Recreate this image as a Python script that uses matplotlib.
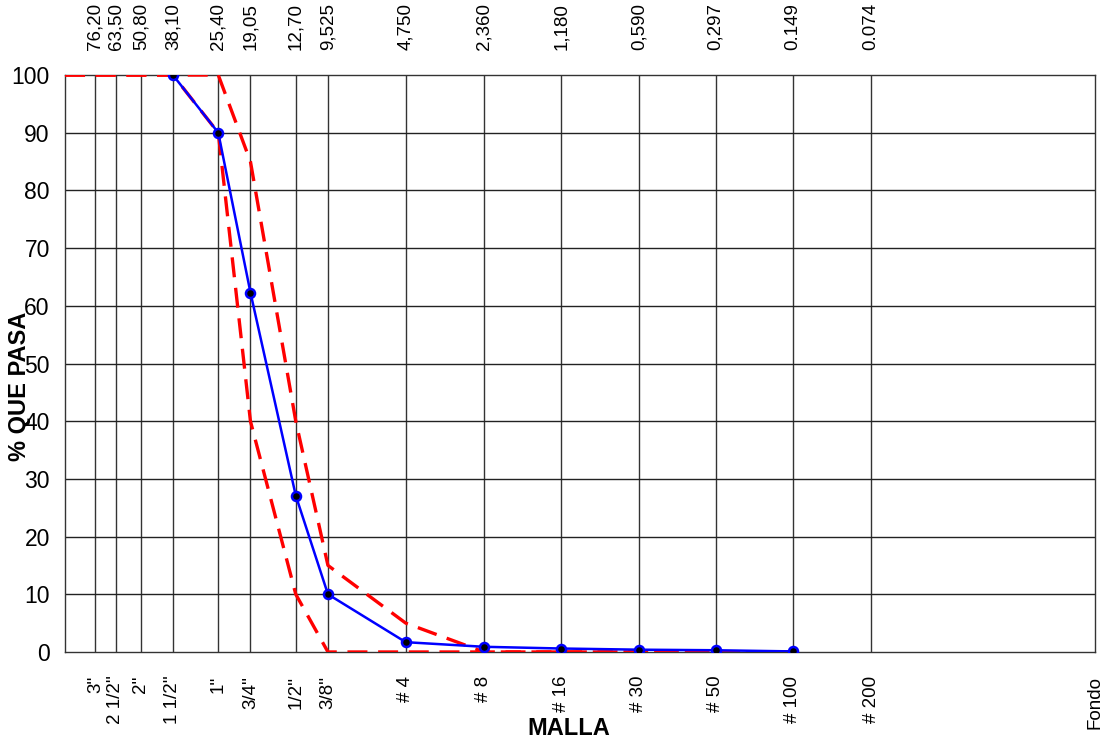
import matplotlib
matplotlib.use("Agg")

import matplotlib.pyplot as plt

plt.rcParams["font.family"] = ["Liberation Sans", "DejaVu Sans"]

# sieve data
mallas = ["3''", "2 1/2''", "2''", "1 1/2''", "1''", "3/4''", "1/2''", "3/8''",
          "# 4", "# 8", "# 16", "# 30", "# 50", "# 100", "# 200", "Fondo"]
aberturas = [76.2, 63.5, 50.8, 38.1, 25.4, 19.05, 12.7, 9.525,
             4.75, 2.36, 1.18, 0.59, 0.297, 0.149, 0.074, 0.01]
aberturas_txt = ["76,20", "63,50", "50,80", "38,10", "25,40", "19,05", "12,70", "9,525",
                 "4,750", "2,360", "1,180", "0,590", "0,297", "0.149", "0.074"]

# sample curve
muestra_x = [38.1, 25.4, 19.05, 12.7, 9.525, 4.75, 2.36, 1.18, 0.59, 0.297, 0.149]
muestra_y = [100, 90, 62.3, 27.1, 10.0, 1.7, 0.9, 0.6, 0.4, 0.3, 0.1]

# spec limits
lim_x = [100, 76.2, 63.5, 50.8, 38.1, 25.4, 19.05, 12.7, 9.525, 4.75, 2.36, 1.18, 0.59, 0.297, 0.149]
lim_sup = [100, 100, 100, 100, 100, 100, 85, 40, 15, 5, 0, 0, 0, 0, 0]
lim_inf = [100, 100, 100, 100, 100, 90, 40, 10, 0, 0, 0, 0, 0, 0, 0]

fig = plt.figure(figsize=(11.08, 7.43), dpi=100)
ax = fig.add_axes([0.0587, 0.1225, 0.9295, 0.7765])

ax.set_xscale("log")
ax.set_xlim(100, 0.01)
ax.set_ylim(0, 100)

# grid
for x in aberturas[:-1]:
    ax.axvline(x, color="#333333", lw=1.0, zorder=1)
for y in range(10, 100, 10):
    ax.axhline(y, color="#222222", lw=1.0, zorder=1)

ax.plot(lim_x, lim_sup, color="red", lw=2.4, dashes=(6, 3.2), zorder=3)
ax.plot(lim_x, lim_inf, color="red", lw=2.4, dashes=(6, 3.2), zorder=3)
ax.plot(muestra_x, muestra_y, color="blue", lw=1.8, marker="o", markersize=6.5,
        markerfacecolor="black", markeredgecolor="blue", markeredgewidth=1.8, zorder=4)

ax.set_yticks(range(0, 101, 10))
ax.tick_params(axis="y", length=0, pad=11, labelsize=16.5)

ax.set_xticks(aberturas)
ax.set_xticklabels(mallas, rotation=90, va="top", fontsize=13.5)
ax.xaxis.set_minor_locator(matplotlib.ticker.NullLocator())
ax.tick_params(axis="x", length=0, pad=17)

top = ax.secondary_xaxis("top")
top.set_xticks(aberturas[:-1])
top.set_xticklabels(aberturas_txt, rotation=90, va="bottom", fontsize=13.5)
top.xaxis.set_minor_locator(matplotlib.ticker.NullLocator())
top.tick_params(axis="x", length=0, pad=18)

for s in ax.spines.values():
    s.set_color("#333333")
    s.set_linewidth(1.0)
top.spines["top"].set_visible(False)

fig.text(0.018, 0.48, "% QUE PASA", rotation=90, ha="center", va="center",
         fontsize=17, fontweight="bold")
fig.text(0.513, 0.02, "MALLA", ha="center", va="center",
         fontsize=17, fontweight="bold")

fig.savefig("out.png", dpi=100, facecolor="white")
